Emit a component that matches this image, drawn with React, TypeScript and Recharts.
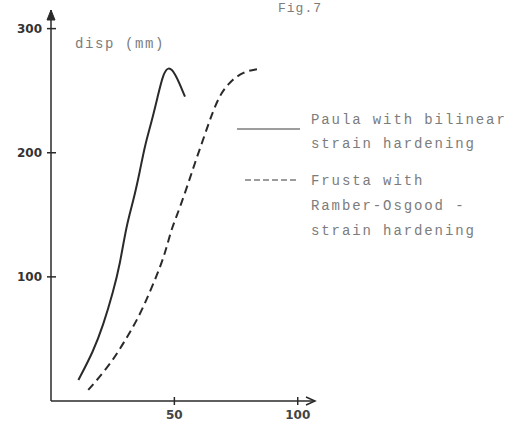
import React from "react";
import { LineChart, Line, XAxis, YAxis, ReferenceDot } from "recharts";

const paulaX = [11.1, 17.1, 21.2, 25.2, 27.9, 30.6, 33.3, 36.0, 38.1, 40.8, 43.4, 45.5, 47.5, 50.2, 54.3];
const paulaY = [16.9, 39.7, 61.2, 88.1, 109.6, 141.8, 160.6, 184.8, 206.3, 225.1, 246.6, 263.5, 269.5, 265.1, 245.2];
const frustaX = [15.1, 23.9, 30.6, 36.0, 40.1, 44.1, 46.8, 48.9, 52.2, 56.3, 59.0, 62.3, 65.1, 68.4, 72.5, 77.9, 83.9];
const frustaY = [8.9, 29.0, 50.5, 69.3, 88.1, 106.9, 123.0, 139.2, 155.3, 179.5, 195.6, 214.3, 230.5, 246.6, 257.3, 265.3, 267.5];
const xTicks = [50, 100];
const yTicks = [100, 200, 300];
const paulaLabel = ["Paula with bilinear", "strain hardening"];
const frustaLabel = ["Frusta with", "Ramber-Osgood -", "strain hardening"];

const paulaData = paulaX.map((x, i) => ({ x, y: paulaY[i] }));
const frustaData = frustaX.map((x, i) => ({ x, y: frustaY[i] }));

const INK = "#2a2a2a";
const GREY = "#7c7c7c";
const MONO = "'Liberation Mono', 'DejaVu Sans Mono', monospace";

const YTick = (props: any) => {
  const { x, y, payload } = props;
  return (
    <g>
      <line x1={x - 4} x2={x + 5} y1={y} y2={y} stroke={INK} strokeWidth={1.5} />
      <text x={x - 9} y={y + 4} textAnchor="end" fontFamily="'DejaVu Sans', sans-serif" fontWeight="bold" fontSize={12} fill="#333">
        {payload.value}
      </text>
    </g>
  );
};

const XTick = (props: any) => {
  const { x, y, payload } = props;
  return (
    <g>
      <line x1={x} x2={x} y1={y - 4} y2={y + 4} stroke={INK} strokeWidth={1.5} />
      <text x={x} y={y + 18} textAnchor="middle" fontFamily="'DejaVu Sans', sans-serif" fontWeight="bold" fontSize={12} fill="#444">
        {payload.value}
      </text>
    </g>
  );
};

const ArrowRight = (props: any) => {
  const { cx, cy } = props;
  return <path d={`M${cx - 9},${cy - 4} L${cx},${cy} L${cx - 9},${cy + 4}`} fill="none" stroke={INK} strokeWidth={1.5} />;
};
const ArrowUp = (props: any) => {
  const { cx, cy } = props;
  return <path d={`M${cx - 4},${cy + 10} L${cx},${cy} L${cx + 4},${cy + 10} Z`} fill={INK} stroke={INK} strokeWidth={1} />;
};

export default function App() {
  return (
    <div style={{ position: "absolute", left: 0, top: 0, width: 517, height: 425, background: "#fff" }}>
      <LineChart width={517} height={425} margin={{ top: 10, right: 202, bottom: 0, left: 0 }}>
        <XAxis
          type="number"
          dataKey="x"
          domain={[0, 107]}
          ticks={xTicks}
          tick={<XTick />}
          tickSize={0}
          tickMargin={0}
          tickLine={false}
          height={24}
          axisLine={{ stroke: INK, strokeWidth: 1.5 }}
          allowDataOverflow
        />
        <YAxis
          type="number"
          dataKey="y"
          domain={[0, 315]}
          ticks={yTicks}
          tick={<YTick />}
          tickSize={0}
          tickMargin={0}
          tickLine={false}
          width={51}
          axisLine={{ stroke: INK, strokeWidth: 1.5 }}
          allowDataOverflow
        />
        <ReferenceDot x={107} y={0} r={0} ifOverflow="visible" shape={<ArrowRight />} />
        <ReferenceDot x={0} y={315} r={0} ifOverflow="visible" shape={<ArrowUp />} />
        <Line data={paulaData} dataKey="y" type="basis" stroke={INK} strokeWidth={2} dot={false} isAnimationActive={false} />
        <Line data={frustaData} dataKey="y" type="basis" stroke={INK} strokeWidth={2} strokeDasharray="8 5" dot={false} isAnimationActive={false} />
        <text x={75} y={48} fontFamily={MONO} fontSize={14} letterSpacing={1.6} fill={GREY}>disp (mm)</text>
        <text x={278} y={12} fontFamily={MONO} fontSize={13} letterSpacing={1} fill={GREY}>Fig.7</text>
        <line x1={237} x2={300} y1={129} y2={129} stroke={GREY} strokeWidth={1.5} />
        <line x1={245} x2={297} y1={180} y2={180} stroke={GREY} strokeWidth={1.5} strokeDasharray="6 3" />
        {paulaLabel.map((t, i) => (
          <text key={t} x={311} y={124 + i * 24} fontFamily={MONO} fontSize={14} letterSpacing={1.9} fill={GREY}>{t}</text>
        ))}
        {frustaLabel.map((t, i) => (
          <text key={t + i} x={311} y={185 + i * 25} fontFamily={MONO} fontSize={14} letterSpacing={1.9} fill={GREY}>{t}</text>
        ))}
      </LineChart>
    </div>
  );
}
